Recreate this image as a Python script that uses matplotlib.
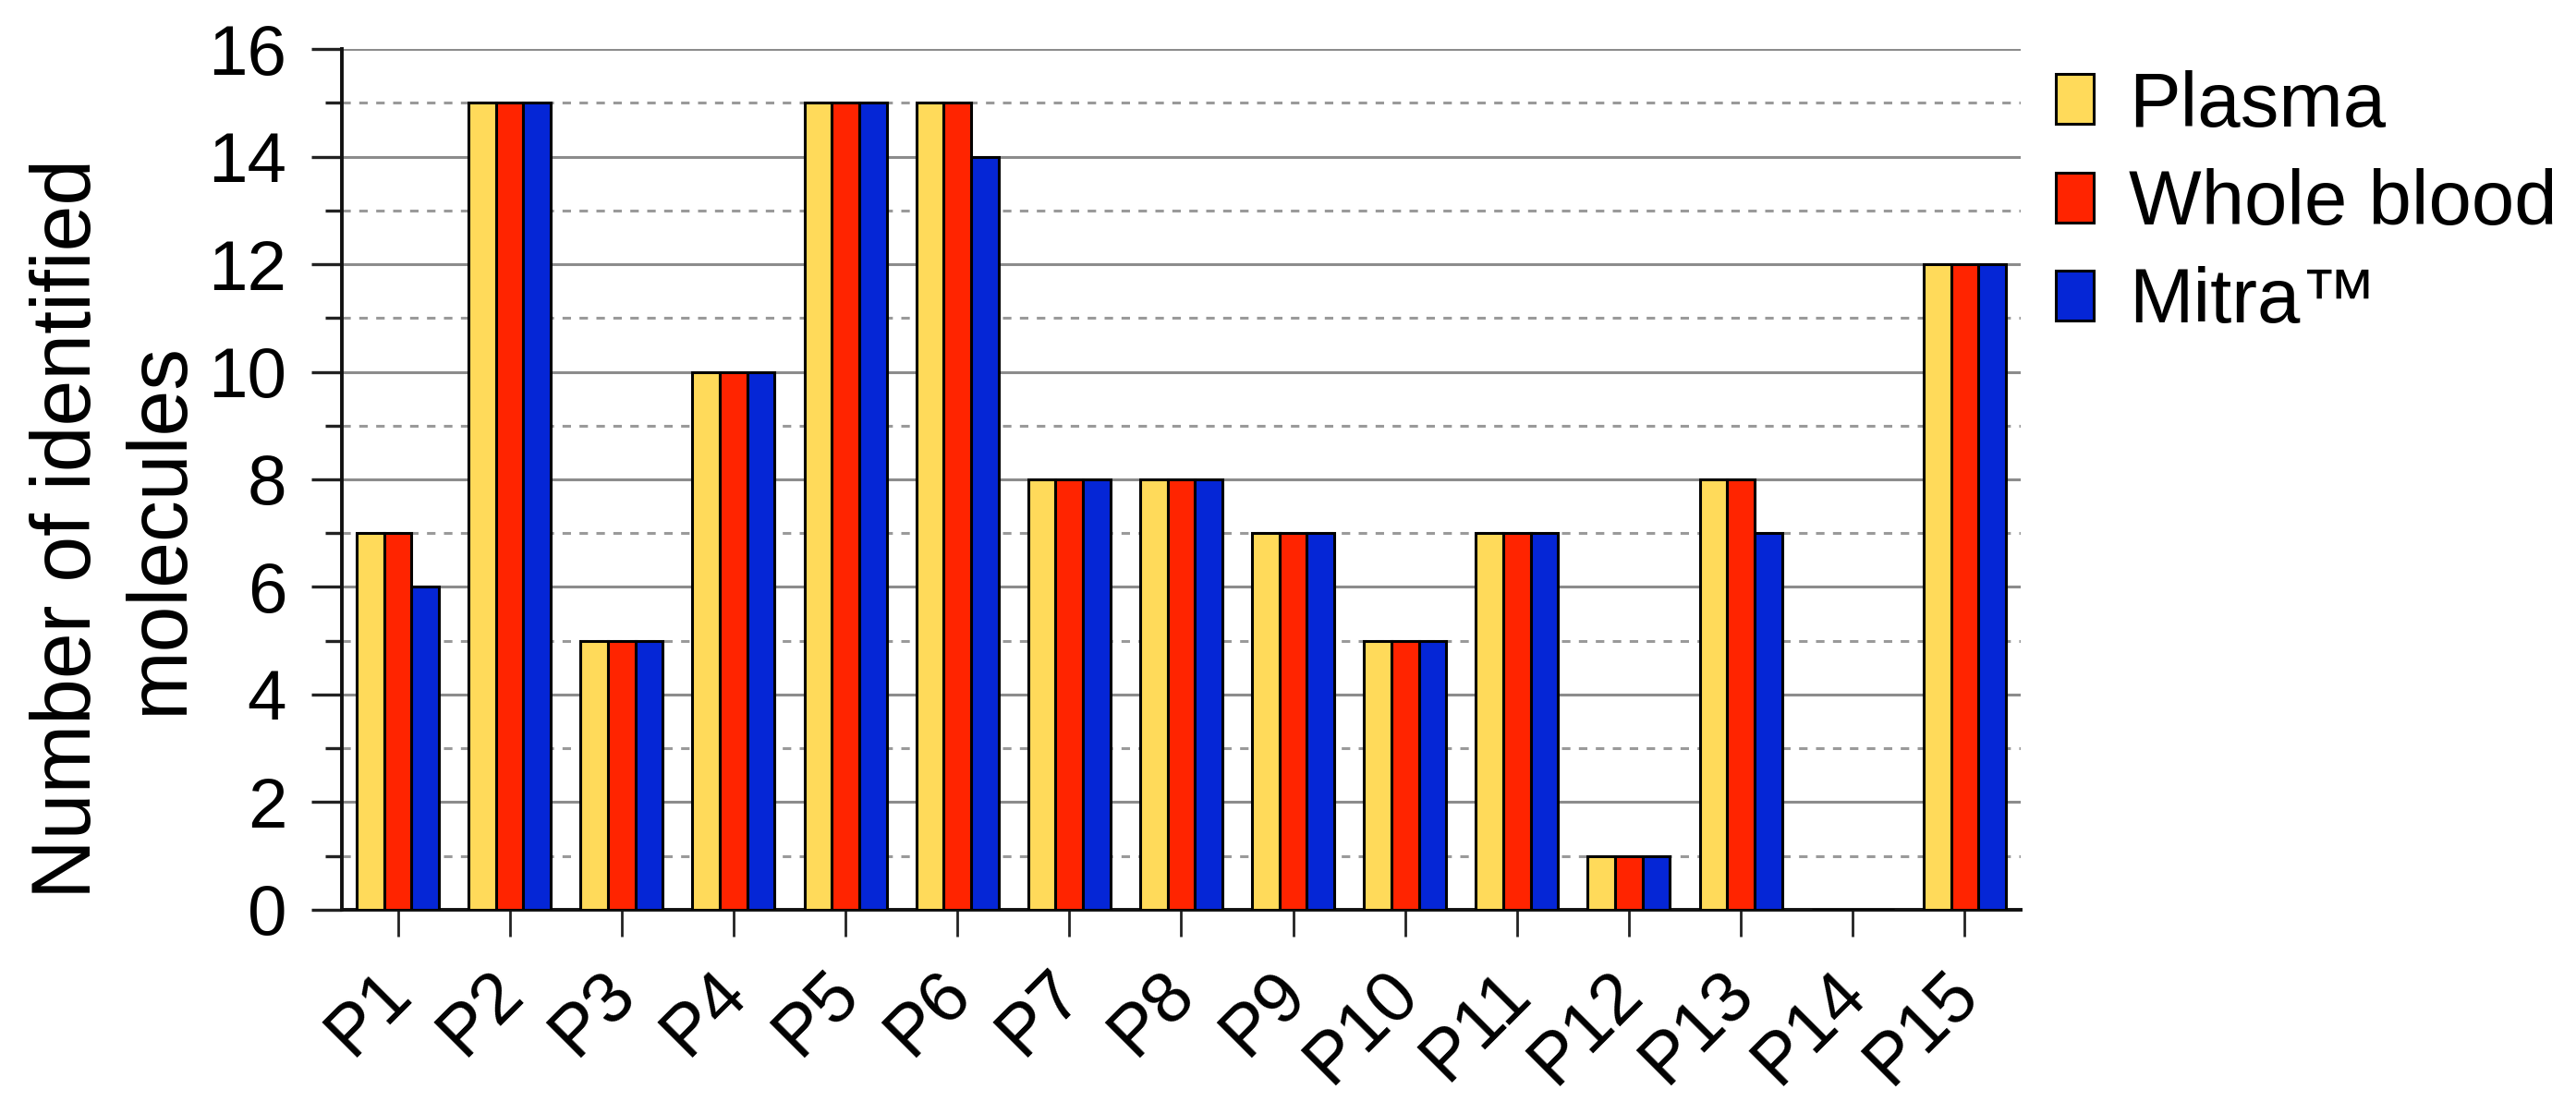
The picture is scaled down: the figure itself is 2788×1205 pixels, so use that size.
'''Number of identified molecules per patient, by sample type.'''

import numpy as np
import matplotlib.pyplot as plt
import matplotlib.transforms as mtransforms
from matplotlib.ticker import MultipleLocator

# Data
patients = ['P%d' % i for i in range(1, 16)]
plasma = [7, 15, 5, 10, 15, 15, 8, 8, 7, 5, 7, 1, 8, 0, 12]
whole_blood = [7, 15, 5, 10, 15, 15, 8, 8, 7, 5, 7, 1, 8, 0, 12]
mitra = [6, 15, 5, 10, 15, 14, 8, 8, 7, 5, 7, 1, 7, 0, 12]

series_names = ['Plasma', 'Whole blood', 'Mitra\u2122']
colors = ['#FFDA5A', '#FF2400', '#0526D6']

plt.rcParams['font.family'] = ['Liberation Sans', 'DejaVu Sans']


#----------------------------------------------------------------------
def show_bars():
    """Grouped bar chart, three sample types per patient"""

    fig = plt.figure(figsize=(27.88, 12.05), dpi=100)
    ax = fig.add_axes([0.1327, 0.1826, 0.6517, 0.7734])

    x = np.arange(len(patients))
    width = 0.245
    for k, (vals, name, col) in enumerate(zip([plasma, whole_blood, mitra],
                                              series_names, colors)):
        ax.bar(x + (k - 1) * width, vals, width, color=col, edgecolor='black',
               linewidth=2.2, label=name, zorder=3)

    ax.set_xlim(-0.5, len(patients) - 0.5)
    ax.set_ylim(0, 16)
    ax.yaxis.set_major_locator(MultipleLocator(2))
    ax.yaxis.set_minor_locator(MultipleLocator(1))

    # grid: solid at even values, dashed at odd values
    ax.set_axisbelow(True)
    ax.grid(axis='y', which='major', color='#8c8c8c', linewidth=2.2,
            linestyle='-')
    ax.grid(axis='y', which='minor', color='#9a9a9a', linewidth=2.2,
            linestyle=(0, (3, 3)))

    for side in ['top', 'right']:
        ax.spines[side].set_visible(False)
    for side in ['left', 'bottom']:
        ax.spines[side].set_linewidth(2.8)
        ax.spines[side].set_color('#111111')

    ax.set_xticks(x)
    ax.set_xticklabels(patients, rotation=45, ha='right', va='baseline',
                       rotation_mode='anchor', fontsize=56)
    ax.tick_params(axis='x', length=21, width=2, pad=46, color='#222222')
    ax.tick_params(axis='y', which='major', length=24, width=2.4,
                   labelsize=55, pad=19, color='#222222')
    ax.tick_params(axis='y', which='minor', length=13, width=2.4,
                   color='#222222')
    # nudge the rotated labels a little to the right of their ticks
    shift = mtransforms.ScaledTranslation(0.17, 0, fig.dpi_scale_trans)
    for lab in ax.get_xticklabels():
        lab.set_transform(lab.get_transform() + shift)

    ax.set_ylabel('Number of identified\nmolecules', fontsize=64.5,
                  linespacing=1.2)
    ax.yaxis.set_label_coords(-0.085, 0.443)

    ax.legend(loc='upper left', bbox_to_anchor=(0.786, 0.965),
              bbox_transform=fig.transFigure, frameon=False, fontsize=60,
              handlelength=0.5, handleheight=0.62, handletextpad=0.45,
              labelspacing=0.34, borderaxespad=0)

    fig.savefig('out.png', dpi=100)


# -----------------------------------------------------------------------------------
if __name__ == '__main__':
    show_bars()
